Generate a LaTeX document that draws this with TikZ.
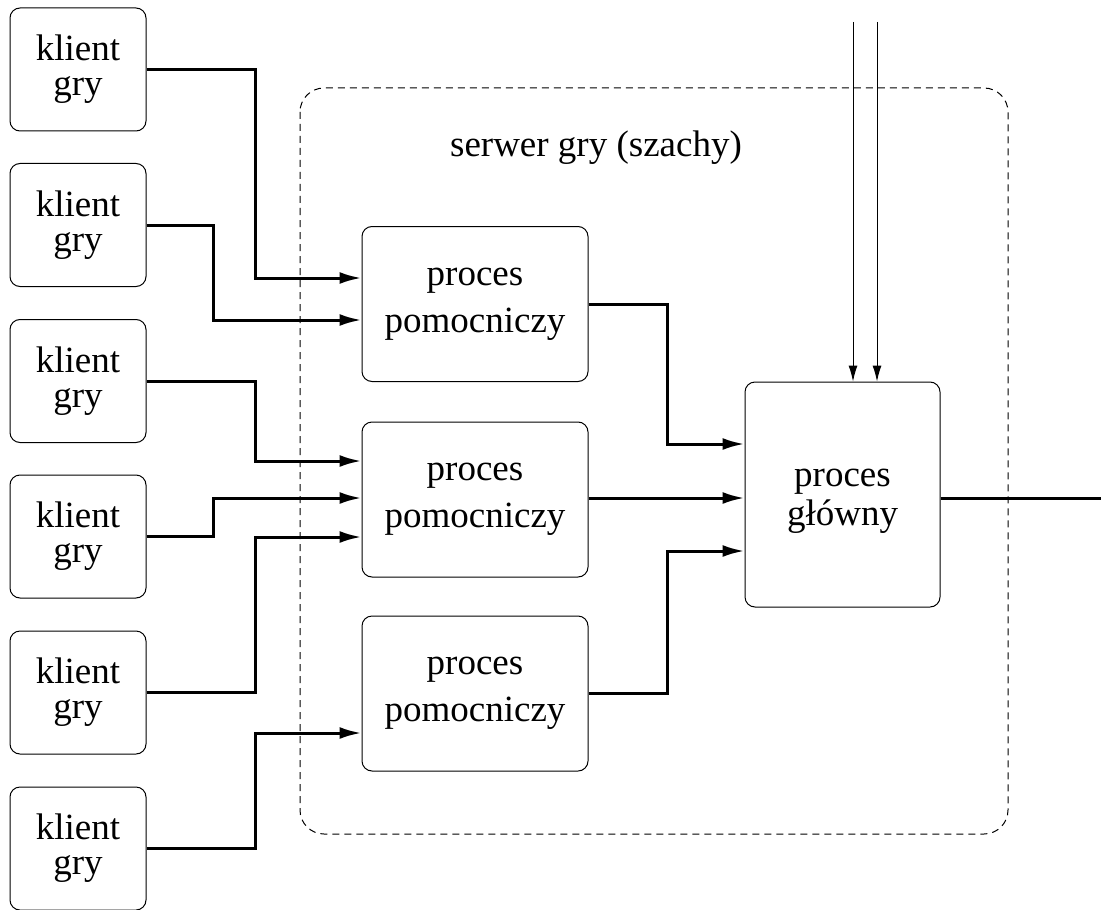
\documentclass[tikz,border=0pt]{standalone}
\usepackage{fontspec}
\setmainfont{Liberation Serif}
\usetikzlibrary{arrows.meta}
\begin{document}
\begin{tikzpicture}[x=0.5pt, y=-0.5pt,
	klient/.style={draw, rounded corners=5pt, line width=0.5pt, minimum width=68pt, minimum height=61.5pt, align=center, inner sep=0pt, font=\fontsize{18.5}{17.5}\selectfont},
	pomoc/.style={draw, rounded corners=5pt, line width=0.5pt, minimum width=113pt, minimum height=77.5pt, align=center, inner sep=0pt, font=\fontsize{18.5}{23.5}\selectfont},
	glowny/.style={draw, rounded corners=5pt, line width=0.5pt, minimum width=97.5pt, minimum height=112.5pt, align=center, inner sep=0pt, font=\fontsize{18.5}{19.5}\selectfont},
	conn/.style={line width=1.5pt, -{Latex[length=11pt,width=6pt]}},
	thinconn/.style={line width=0.5pt, -{Latex[length=8pt,width=4.5pt]}}]
	\useasboundingbox (0,0) rectangle (1101,909);

	% serwer
	\draw[dashed, dash pattern=on 3.5pt off 2.5pt, line width=0.5pt, rounded corners=12pt] (300,88) rectangle (1008,834);
	\node[font=\fontsize{18.5}{20}\selectfont] (serwer) at (596,148) {serwer gry (szachy)};

	% klienci
	\node[klient] (k1) at (78,69.5) {klient\\gry};
	\node[klient] (k2) at (78,225) {klient\\gry};
	\node[klient] (k3) at (78,381) {klient\\gry};
	\node[klient] (k4) at (78,536.5) {klient\\gry};
	\node[klient] (k5) at (78,692.5) {klient\\gry};
	\node[klient] (k6) at (78,848.5) {klient\\gry};

	% procesy
	\node[pomoc] (p1) at (475,304) {proces\\pomocniczy};
	\node[pomoc] (p2) at (475,499.5) {proces\\pomocniczy};
	\node[pomoc] (p3) at (475,693.5) {proces\\pomocniczy};
	\node[glowny] (m) at (842.5,494.5) {\rule{0pt}{15.5pt}proces\\główny};

	% polaczenia klientow
	\draw[conn] (k1.east) -- (255,69.5) -- (255,278) -- (p1.west |- 0,278);
	\draw[conn] (k2.east) -- (213,225) -- (213,320) -- (p1.west |- 0,320);
	\draw[conn] (k3.east) -- (255,381) -- (255,461) -- (p2.west |- 0,461);
	\draw[conn] (k4.east) -- (213,536.5) -- (213,498) -- (p2.west |- 0,498);
	\draw[conn] (k5.east) -- (255,692.5) -- (255,537) -- (p2.west |- 0,537);
	\draw[conn] (k6.east) -- (255,848.5) -- (255,733) -- (p3.west |- 0,733);

	% do procesu glownego
	\draw[conn] (p1.east) -- (667,304) -- (667,444) -- (m.west |- 0,444);
	\draw[conn] (p2.east |- 0,498) -- (m.west |- 0,498);
	\draw[conn] (p3.east) -- (667,693.5) -- (667,551) -- (m.west |- 0,551);

	\coordinate (wy) at (1101,498);
	\draw[line width=1.5pt] (m.east |- wy) -- (wy);

	\coordinate (we1) at (853,22);
	\coordinate (we2) at (877,22);
	\draw[thinconn] (we1) -- (we1 |- m.north);
	\draw[thinconn] (we2) -- (we2 |- m.north);
\end{tikzpicture}
\end{document}
